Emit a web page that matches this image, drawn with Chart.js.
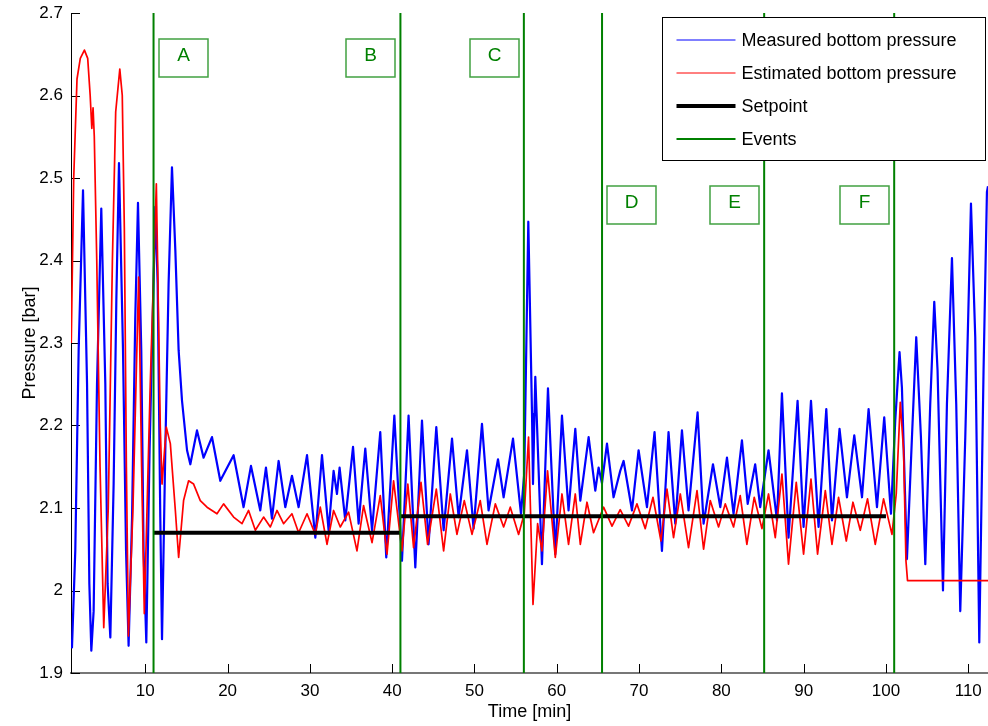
<!DOCTYPE html>
<html>
<head>
<meta charset="utf-8">
<script src="https://cdn.jsdelivr.net/npm/chart.js@4.4.1/dist/chart.umd.min.js"></script>
<style>
html,body{margin:0;padding:0;background:#fff;}
#wrap{width:988px;height:726px;position:relative;}
</style>
</head>
<body>
<div id="wrap"><canvas id="c" width="988" height="726"></canvas></div>
<script>
// ---------------- data ----------------
const xLimits = [0.97, 112.4];
const yLimits = [1.9, 2.7];
const xTickValues = [10, 20, 30, 40, 50, 60, 70, 80, 90, 100, 110];
const xTickLabels = ['10', '20', '30', '40', '50', '60', '70', '80', '90', '100', '110'];
const yTickValues = [1.9, 2.0, 2.1, 2.2, 2.3, 2.4, 2.5, 2.6, 2.7];
const yTickLabels = ['1.9', '2', '2.1', '2.2', '2.3', '2.4', '2.5', '2.6', '2.7'];

const blueTime = [1.0, 1.09, 1.49, 1.90, 2.43, 2.92, 3.20, 3.44, 3.72, 4.13, 4.65, 5.14, 5.42, 5.75, 6.15, 6.48, 6.80, 7.29, 7.66, 7.97,
  8.39, 8.78, 9.11, 9.51, 9.79, 10.12, 10.52, 11.22, 11.50, 11.82, 12.03, 12.43, 12.83, 13.24, 13.65, 14.05, 14.46, 15.07, 15.47, 16.28,
  17.08, 18.10, 19.11, 20.73, 21.94, 22.84, 23.97, 24.66, 25.39, 26.20, 27.01, 27.82, 28.63, 29.65, 30.66, 31.47, 32.27, 32.88, 33.29, 33.61,
  34.30, 35.24, 35.92, 36.73, 37.55, 38.55, 39.28, 40.26, 41.19, 41.99, 42.81, 43.62, 44.42, 45.36, 46.25, 47.27, 48.07, 49.09, 49.89, 50.91,
  51.71, 52.86, 53.54, 54.68, 55.65, 56.05, 56.54, 56.99, 57.11, 57.39, 58.20, 58.93, 59.82, 60.63, 61.43, 62.25, 62.86, 63.87, 64.68, 65.08,
  65.49, 66.10, 66.90, 67.71, 68.12, 69.14, 69.94, 70.96, 71.88, 72.78, 73.58, 74.40, 75.21, 76.01, 77.11, 77.84, 78.98, 79.87, 80.68, 81.48,
  82.50, 83.20, 84.11, 84.72, 85.73, 86.76, 87.36, 88.16, 89.26, 89.99, 90.89, 91.81, 92.75, 93.44, 94.36, 95.26, 96.15, 97.09, 97.89, 98.91,
  99.79, 100.61, 101.13, 101.65, 101.94, 102.55, 103.16, 103.68, 104.25, 104.78, 105.38, 105.87, 106.27, 106.93, 107.41, 108.02, 108.54, 109.03, 109.64, 110.33,
  110.85, 111.34, 111.86, 112.27, 112.4];
const bluePressure = [1.940, 1.931, 2.048, 2.291, 2.485, 2.250, 2.008, 1.927, 1.975, 2.250, 2.463, 2.250, 2.008, 1.943, 2.129, 2.352, 2.518, 2.291, 2.048, 1.933,
  2.089, 2.331, 2.470, 2.291, 2.048, 1.937, 2.170, 2.465, 2.372, 2.089, 1.941, 2.170, 2.372, 2.513, 2.412, 2.291, 2.230, 2.170, 2.153, 2.194,
  2.161, 2.186, 2.133, 2.164, 2.101, 2.151, 2.097, 2.149, 2.087, 2.157, 2.101, 2.139, 2.101, 2.164, 2.064, 2.164, 2.073, 2.145, 2.117, 2.149,
  2.085, 2.174, 2.081, 2.172, 2.073, 2.192, 2.040, 2.212, 2.036, 2.212, 2.028, 2.206, 2.056, 2.198, 2.073, 2.184, 2.089, 2.170, 2.075, 2.202,
  2.097, 2.159, 2.113, 2.184, 2.093, 2.142, 2.447, 2.214, 2.129, 2.259, 2.032, 2.245, 2.044, 2.212, 2.097, 2.196, 2.109, 2.186, 2.121, 2.149,
  2.130, 2.178, 2.113, 2.145, 2.157, 2.097, 2.170, 2.101, 2.192, 2.048, 2.192, 2.081, 2.194, 2.097, 2.216, 2.081, 2.153, 2.101, 2.161, 2.093,
  2.182, 2.105, 2.153, 2.101, 2.170, 2.085, 2.239, 2.064, 2.230, 2.077, 2.230, 2.077, 2.220, 2.085, 2.196, 2.113, 2.188, 2.113, 2.220, 2.101,
  2.210, 2.093, 2.206, 2.289, 2.246, 2.038, 2.186, 2.307, 2.186, 2.032, 2.226, 2.350, 2.267, 2.000, 2.226, 2.403, 2.226, 1.975, 2.186, 2.469,
  2.307, 1.937, 2.267, 2.483, 2.490];

const redTime = [1.0, 1.3, 1.7, 2.1, 2.6, 3.0, 3.3, 3.5, 3.65, 3.8, 4.1, 4.5, 4.95, 5.5, 6.0, 6.4, 6.9, 7.2, 7.45, 7.7,
  7.95, 8.5, 9.19, 9.55, 9.88, 10.6, 11.34, 11.82, 12.03, 12.55, 13.04, 13.65, 14.05, 14.65, 15.26, 15.87, 16.68, 17.50, 18.71, 19.51,
  20.73, 21.75, 22.55, 23.37, 24.37, 25.19, 26.00, 26.80, 27.82, 28.63, 29.65, 30.66, 31.26, 32.08, 32.88, 33.69, 34.70, 35.72, 36.52, 37.55,
  38.55, 39.37, 40.17, 41.19, 41.90, 42.60, 43.50, 44.30, 45.36, 46.25, 47.06, 47.87, 48.76, 49.70, 50.70, 51.52, 52.53, 53.54, 54.35, 55.36,
  56.05, 56.57, 57.11, 57.67, 58.20, 58.88, 59.82, 60.63, 61.43, 62.25, 62.86, 63.67, 64.47, 65.69, 66.71, 67.71, 68.72, 69.74, 70.75, 71.69,
  72.66, 73.39, 74.19, 75.01, 76.01, 77.04, 77.84, 78.65, 79.66, 80.47, 81.48, 82.29, 83.10, 83.99, 84.93, 85.73, 86.55, 87.36, 88.16, 89.10,
  89.99, 90.89, 91.69, 92.63, 93.44, 94.24, 95.18, 95.99, 96.88, 97.76, 98.70, 99.71, 100.73, 101.25, 101.74, 102.14, 102.43, 102.62, 112.4];
const redPressure = [2.300, 2.500, 2.620, 2.645, 2.655, 2.645, 2.600, 2.560, 2.585, 2.550, 2.400, 2.150, 1.955, 2.100, 2.400, 2.580, 2.632, 2.600, 2.440, 2.150,
  1.945, 2.100, 2.380, 2.150, 1.972, 2.250, 2.493, 2.198, 2.129, 2.198, 2.178, 2.097, 2.040, 2.109, 2.133, 2.129, 2.109, 2.101, 2.093, 2.105,
  2.089, 2.081, 2.097, 2.073, 2.089, 2.077, 2.097, 2.081, 2.093, 2.070, 2.093, 2.068, 2.101, 2.056, 2.097, 2.077, 2.095, 2.048, 2.103, 2.058,
  2.115, 2.044, 2.133, 2.048, 2.129, 2.052, 2.131, 2.056, 2.123, 2.048, 2.117, 2.068, 2.109, 2.068, 2.109, 2.056, 2.105, 2.077, 2.101, 2.068,
  2.093, 2.186, 1.983, 2.081, 2.048, 2.145, 2.040, 2.117, 2.056, 2.117, 2.056, 2.107, 2.070, 2.101, 2.078, 2.098, 2.078, 2.105, 2.075, 2.113,
  2.060, 2.123, 2.064, 2.117, 2.052, 2.121, 2.050, 2.109, 2.077, 2.105, 2.077, 2.115, 2.056, 2.113, 2.075, 2.117, 2.064, 2.141, 2.032, 2.131,
  2.044, 2.135, 2.044, 2.121, 2.056, 2.113, 2.060, 2.107, 2.073, 2.111, 2.056, 2.111, 2.068, 2.117, 2.228, 2.170, 2.036, 2.012, 2.012];

const setpointTime = [11, 41, 41, 41, 100];
const setpointValue = [2.07, 2.07, null, 2.09, 2.09];

const eventTimes = [11, 41, 56, 65.5, 85.2, 101];
const eventLabels = ['A', 'B', 'C', 'D', 'E', 'F'];

// ---------------- chart ----------------
const FONT = "'Liberation Sans', Arial, Helvetica, sans-serif";
const toXY = (ts, vs) => ts.map((t, i) => ({ x: t, y: vs[i] }));
const eventData = [];
eventTimes.forEach(t => {
  eventData.push({ x: t, y: yLimits[0] }, { x: t, y: yLimits[1] }, { x: t, y: null });
});

const inwardTicks = {
  id: 'inwardTicks',
  beforeDatasetsDraw(chart) {
    const { ctx, chartArea: ca, scales } = chart;
    ctx.save();
    ctx.strokeStyle = '#000';
    ctx.lineWidth = 1;
    ctx.beginPath();
    scales.x.ticks.forEach(t => {
      const px = Math.round(scales.x.getPixelForValue(t.value)) + 0.5;
      ctx.moveTo(px, ca.bottom); ctx.lineTo(px, ca.bottom - 9);
    });
    scales.y.ticks.forEach(t => {
      const py = Math.round(scales.y.getPixelForValue(t.value)) + 0.5;
      ctx.moveTo(ca.left, py); ctx.lineTo(ca.left + 9, py);
    });
    ctx.stroke();
    ctx.restore();
  }
};

const eventBoxes = {
  id: 'eventBoxes',
  afterDatasetsDraw(chart, args, opts) {
    const { ctx, chartArea: ca, scales } = chart;
    ctx.save();
    ctx.font = opts.fontSize + 'px ' + FONT;
    ctx.textAlign = 'center';
    ctx.textBaseline = 'alphabetic';
    eventTimes.forEach((t, i) => {
      const lx = scales.x.getPixelForValue(t);
      const bx = Math.round(opts.sides[i] === 'right' ? lx + opts.gapRight : lx - opts.gapLeft);
      const by = Math.round(ca.top + opts.rowTops[opts.rows[i]]);
      ctx.strokeStyle = opts.borderColor;
      ctx.lineWidth = 1.5;
      ctx.strokeRect(bx, by, opts.w, opts.h);
      ctx.fillStyle = opts.textColor;
      ctx.fillText(eventLabels[i], bx + opts.w / 2, by + 22);
    });
    ctx.restore();
  }
};

const boxLegend = {
  id: 'boxLegend',
  afterDraw(chart, args, opts) {
    const { ctx, chartArea: ca } = chart;
    const left = Math.round(ca.right - 326) + 0.5;
    const top = Math.round(ca.top + 4) + 0.5;
    const w = 323, h = 143;
    ctx.save();
    ctx.fillStyle = '#fff';
    ctx.fillRect(left, top, w, h);
    ctx.strokeStyle = '#000';
    ctx.lineWidth = 1;
    ctx.strokeRect(left, top, w, h);
    ctx.font = opts.fontSize + 'px ' + FONT;
    ctx.textBaseline = 'middle';
    ctx.textAlign = 'left';
    chart.data.datasets.forEach((ds, k) => {
      const y = Math.round(top + 22 + k * 33);
      ctx.strokeStyle = ds.borderColor;
      ctx.lineWidth = opts.lineWidths[k];
      ctx.beginPath();
      ctx.moveTo(left + 14, y); ctx.lineTo(left + 73, y);
      ctx.stroke();
      ctx.fillStyle = '#000';
      ctx.fillText(ds.label, left + 79, y + 1);
    });
    ctx.restore();
  }
};

new Chart(document.getElementById('c'), {
  type: 'line',
  data: {
    datasets: [
      { label: 'Measured bottom pressure', data: toXY(blueTime, bluePressure), borderColor: '#0000ff', borderWidth: 2.2, order: 4 },
      { label: 'Estimated bottom pressure', data: toXY(redTime, redPressure), borderColor: '#ff0000', borderWidth: 1.7, order: 3 },
      { label: 'Setpoint', data: toXY(setpointTime, setpointValue), borderColor: '#000000', borderWidth: 4, borderCapStyle: 'butt', order: 2 },
      { label: 'Events', data: eventData, borderColor: '#008000', borderWidth: 2, order: 1 }
    ]
  },
  options: {
    responsive: false,
    animation: false,
    devicePixelRatio: 1,
    parsing: true,
    spanGaps: false,
    elements: {
      point: { radius: 0, hoverRadius: 0 },
      line: { tension: 0, borderJoinStyle: 'round', fill: false }
    },
    layout: { padding: { top: 13, right: 0, bottom: 0, left: 0 } },
    scales: {
      x: {
        type: 'linear', min: xLimits[0], max: xLimits[1],
        afterBuildTicks: s => { s.ticks = xTickValues.map(v => ({ value: v })); },
        afterFit: s => { s.height = 53; s.paddingLeft = 0; s.paddingRight = 0; },
        grid: { display: false, drawTicks: false, tickLength: 0 },
        border: { display: true, color: '#777777', width: 2 },
        ticks: { autoSkip: false, maxRotation: 0, padding: 8, color: '#000', font: { family: FONT, size: 17 },
                 callback: (v, i) => xTickLabels[i] },
        title: { display: true, text: 'Time [min]', color: '#000', font: { family: FONT, size: 18 }, padding: { top: 0, bottom: 3 } }
      },
      y: {
        type: 'linear', min: yLimits[0], max: yLimits[1],
        afterBuildTicks: s => { s.ticks = yTickValues.map(v => ({ value: v })); },
        afterFit: s => { s.width = 71; s.paddingTop = 0; s.paddingBottom = 0; },
        grid: { display: false, drawTicks: false, tickLength: 0 },
        border: { display: true, color: '#000', width: 1 },
        ticks: { autoSkip: false, padding: 8, color: '#000', font: { family: FONT, size: 17 },
                 callback: (v, i) => yTickLabels[i] },
        title: { display: true, text: 'Pressure [bar]', color: '#000', font: { family: FONT, size: 18 }, padding: { top: 19, bottom: 0 } }
      }
    },
    plugins: {
      legend: { display: false },
      tooltip: { enabled: false },
      eventBoxes: { fontSize: 19, sides: ['right', 'left', 'left', 'right', 'left', 'left'], rows: [0, 0, 0, 1, 1, 1],
                    rowTops: [26, 173], gapRight: 5, gapLeft: 54, w: 49, h: 38,
                    borderColor: 'rgba(0,128,0,0.75)', textColor: '#008000' },
      boxLegend: { fontSize: 18, lineWidths: [1, 1, 4, 2] }
    }
  },
  plugins: [inwardTicks, eventBoxes, boxLegend]
});
</script>
</body>
</html>
